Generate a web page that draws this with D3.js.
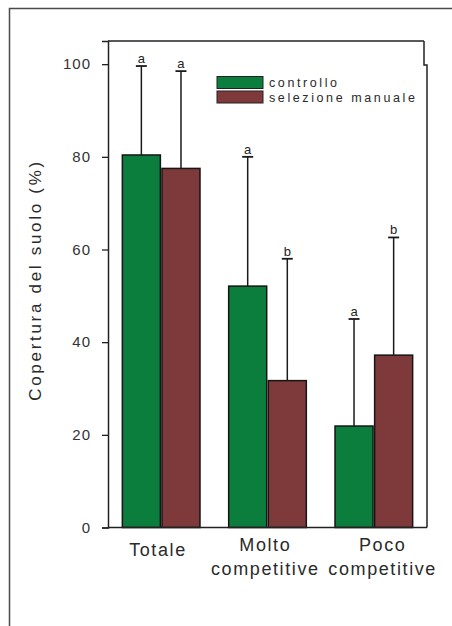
<!DOCTYPE html>
<html>
<head>
<meta charset="utf-8">
<script src="https://cdn.jsdelivr.net/npm/d3@7"></script>
<style>
  html, body { margin: 0; padding: 0; background: #fff; }
  svg { display: block; font-family: "Liberation Sans", Arial, sans-serif; }
</style>
</head>
<body>
<svg id="chart" width="452" height="626"></svg>
<script>
// Ground cover (%) by plant group, control vs. manual selection
const categories = ["Totale", "Molto competitive", "Poco competitive"];
const series = ["controllo", "selezione manuale"];
const controllo = [80.4, 52.1, 21.9];
const selezioneManuale = [77.5, 31.7, 37.2];
// upper error bar end (mean + SD)
const controlloUpper = [99.6, 80.0, 45.0];
const selezioneUpper = [98.5, 58.0, 62.6];
// significance letters
const controlloLetters = ["a", "a", "a"];
const selezioneLetters = ["a", "b", "b"];
const yTicks = [0, 20, 40, 60, 80, 100];
const colors = ["#0b7d3d", "#7e3a3a"];

const rows = categories.map((c, i) => ({
  category: c,
  values: [
    { key: series[0], value: controllo[i], upper: controlloUpper[i], letter: controlloLetters[i] },
    { key: series[1], value: selezioneManuale[i], upper: selezioneUpper[i], letter: selezioneLetters[i] }
  ]
}));

const svg = d3.select("#chart");
const plot = { left: 108, right: 427, top: 41, bottom: 527.5 };

// outer frame
svg.append("rect")
  .attr("x", 9.5).attr("y", 8.5).attr("width", 600).attr("height", 700)
  .attr("fill", "none").attr("stroke", "#4a4a4a").attr("stroke-width", 1.5);

const y = d3.scaleLinear().domain([0, 105]).range([plot.bottom, plot.top]);
const x0 = d3.scaleBand().domain(categories).range([plot.left, plot.right])
  .paddingInner(0.24).paddingOuter(0.12);
const x1 = d3.scaleBand().domain(series).range([0, x0.bandwidth()]).padding(0.04);

// bars
const groups = svg.append("g").selectAll("g").data(rows).join("g")
  .attr("transform", d => `translate(${x0(d.category)},0)`);

groups.selectAll("rect").data(d => d.values).join("rect")
  .attr("x", d => x1(d.key))
  .attr("y", d => y(d.value))
  .attr("width", x1.bandwidth())
  .attr("height", d => y(0) - y(d.value))
  .attr("fill", (d, i) => colors[i])
  .attr("stroke", "#151515").attr("stroke-width", 1.5);

// upper error bars
const err = groups.selectAll("g.err").data(d => d.values).join("g").attr("class", "err")
  .attr("transform", d => `translate(${x1(d.key) + x1.bandwidth() / 2},0)`);
err.append("line")
  .attr("x1", 0).attr("x2", 0)
  .attr("y1", d => y(d.value)).attr("y2", d => y(d.upper))
  .attr("stroke", "#1a1a1a").attr("stroke-width", 1.5);
err.append("line")
  .attr("x1", -5.5).attr("x2", 5.5)
  .attr("y1", d => y(d.upper)).attr("y2", d => y(d.upper))
  .attr("stroke", "#1a1a1a").attr("stroke-width", 1.8);
err.append("text")
  .attr("x", 0).attr("y", d => y(d.upper) - 3)
  .attr("text-anchor", "middle")
  .attr("font-size", 13).attr("fill", "#222")
  .text(d => d.letter);

// plot frame: top, right (with its small step) and axes
svg.append("line")
  .attr("x1", plot.left).attr("x2", plot.right - 3)
  .attr("y1", plot.top).attr("y2", plot.top)
  .attr("stroke", "#222").attr("stroke-width", 1.5);
svg.append("path")
  .attr("d", `M${plot.right - 3},${plot.top} V${plot.top + 24} H${plot.right} V${plot.bottom}`)
  .attr("fill", "none").attr("stroke", "#222").attr("stroke-width", 1.5);
svg.append("line")
  .attr("x1", plot.left).attr("x2", plot.right)
  .attr("y1", plot.bottom).attr("y2", plot.bottom)
  .attr("stroke", "#222").attr("stroke-width", 1.5);

const yAxis = svg.append("g")
  .attr("transform", `translate(${plot.left},0)`)
  .call(d3.axisLeft(y).tickValues(yTicks).tickSize(6).tickPadding(11));
yAxis.select(".domain").attr("stroke", "#222").attr("stroke-width", 1.5);
yAxis.selectAll(".tick line").attr("stroke", "#222").attr("stroke-width", 1.3);
yAxis.selectAll(".tick text")
  .attr("font-size", 15).attr("fill", "#333")
  .attr("letter-spacing", 1)
  .attr("font-family", "'Liberation Sans', Arial, sans-serif");

// category labels
const labelShift = [-4, -3, 8];
const labels = svg.append("g").selectAll("text").data(categories).join("text")
  .attr("text-anchor", "middle")
  .attr("font-size", 18).attr("fill", "#2a2a2a")
  .attr("letter-spacing", 1.6)
  .attr("transform", (d, i) => `translate(${x0(d) + x0.bandwidth() / 2 + labelShift[i] + 0.8},0)`);
labels.each(function (d) {
  const words = d.split(" ");
  const t = d3.select(this);
  words.forEach((w, j) => {
    t.append("tspan").attr("x", 0)
      .attr("y", words.length === 1 ? 556 : 551 + j * 24)
      .text(w);
  });
});

// y axis title
svg.append("text")
  .attr("transform", `translate(41,${(160 + 400) / 2}) rotate(-90)`)
  .attr("text-anchor", "middle")
  .attr("font-size", 17).attr("fill", "#2a2a2a")
  .attr("letter-spacing", 2.7)
  .text("Copertura del suolo (%)");

// legend
const legend = svg.append("g").attr("transform", "translate(217,76.5)");
const items = legend.selectAll("g").data(series).join("g")
  .attr("transform", (d, i) => `translate(0,${i * 14.5})`);
items.append("rect")
  .attr("width", 46).attr("height", 12)
  .attr("fill", (d, i) => colors[i])
  .attr("stroke", "#222").attr("stroke-width", 1);
items.append("text")
  .attr("x", 52).attr("y", 10.5)
  .attr("font-size", 12.5).attr("fill", "#2a2a2a")
  .attr("letter-spacing", 2.6)
  .text(d => d);
</script>
</body>
</html>
